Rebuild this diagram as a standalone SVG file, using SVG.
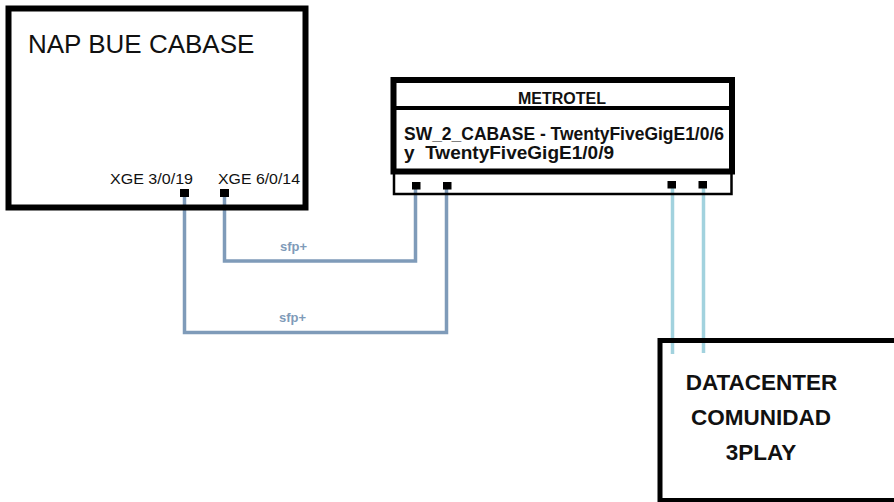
<svg xmlns="http://www.w3.org/2000/svg" width="894" height="502" viewBox="0 0 894 502">
<style>
.box{fill:none;stroke:#000}
.port{fill:#000}
.lbl{font-family:"Liberation Sans",Arial,sans-serif;fill:#111}
.b{font-weight:bold}
.sfp{font-family:"Liberation Sans",Arial,sans-serif;font-weight:bold;font-size:13px;fill:#7f9bb9}
.c1{fill:none;stroke:#7f9bb9;stroke-width:3.5}
.c2{fill:none;stroke:#a2d2de;stroke-width:3.5}
</style>
<rect width="894" height="502" fill="#fff"/>
<g id="connectors">
<path class="c1" d="M184.5 197 V332.5 H446.5 V189"/>
<path class="c1" d="M224.5 197 V261 H415.5 V189"/>
<path class="c2" d="M672.5 188 V354"/>
<path class="c2" d="M703.5 188 V353"/>
<text class="sfp" x="280" y="250.5">sfp+</text>
<text class="sfp" x="279" y="321.5">sfp+</text>
</g>
<g id="nap">
<rect class="box" x="8.5" y="8.5" width="297" height="199" stroke-width="6"/>
<text class="lbl" x="28" y="52.5" font-size="26">NAP BUE CABASE</text>
<text class="lbl" x="110" y="184" font-size="15" textLength="83" lengthAdjust="spacingAndGlyphs">XGE 3/0/19</text>
<text class="lbl" x="218" y="184" font-size="15" textLength="82" lengthAdjust="spacingAndGlyphs">XGE 6/0/14</text>
<rect class="port" x="180" y="189" width="9" height="8"/>
<rect class="port" x="220" y="189" width="9" height="8"/>
</g>
<g id="metrotel">
<rect class="box" x="394" y="171" width="337.5" height="23" stroke-width="2.5"/>
<rect class="box" x="393.5" y="80" width="338.5" height="91.5" stroke-width="6"/>
<line x1="393.5" y1="108" x2="732" y2="108" stroke="#000" stroke-width="4"/>
<text class="lbl b" x="562" y="104" font-size="16" text-anchor="middle" textLength="88" lengthAdjust="spacingAndGlyphs">METROTEL</text>
<text class="lbl b" x="404" y="140" font-size="18" textLength="320" lengthAdjust="spacingAndGlyphs">SW_2_CABASE - TwentyFiveGigE1/0/6</text>
<text class="lbl b" x="404" y="159" font-size="18" textLength="210" lengthAdjust="spacingAndGlyphs" xml:space="preserve">y  TwentyFiveGigE1/0/9</text>
<rect class="port" x="412" y="182" width="8.5" height="7.5"/>
<rect class="port" x="443" y="182" width="8.5" height="7.5"/>
<rect class="port" x="667.5" y="181" width="8.5" height="7.5"/>
<rect class="port" x="698.5" y="181" width="8.5" height="7.5"/>
</g>
<g id="datacenter">
<rect class="box" x="660" y="340.5" width="260" height="160" stroke-width="5"/>
<text class="lbl b" x="761.5" y="389.5" font-size="22.5" text-anchor="middle">DATACENTER</text>
<text class="lbl b" x="761" y="425" font-size="22.5" text-anchor="middle">COMUNIDAD</text>
<text class="lbl b" x="761" y="459.5" font-size="22.5" text-anchor="middle">3PLAY</text>
</g>
</svg>
